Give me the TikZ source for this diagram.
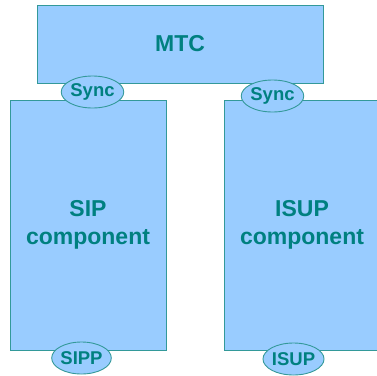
\documentclass[tikz,border=0pt]{standalone}
\usepackage{fontspec}
\setmainfont{Liberation Sans}
\usetikzlibrary{shapes.geometric}
\definecolor{boxfill}{HTML}{99CCFF}
\definecolor{boxline}{HTML}{339999}
\definecolor{labeltext}{HTML}{008080}
\tikzset{
  block/.style={draw=boxline, line width=0.9pt, fill=boxfill, inner sep=0pt,
    text=labeltext, align=center, font=\fontsize{23}{28}\selectfont\bfseries},
  port/.style={ellipse, draw=boxline, line width=0.9pt, fill=boxfill, inner sep=0pt,
    minimum width=51pt, minimum height=32pt, text=labeltext,
    font=\fontsize{18.5}{20}\selectfont\bfseries}
}
\begin{document}
\begin{tikzpicture}[x=1pt,y=-1pt]
\useasboundingbox (0,0) rectangle (377,375);
\clip (0,0) rectangle (377,375);
% component blocks
\node[block, minimum width=286pt, minimum height=78pt] (mtc) at (180,44) {MTC};
\node[block, minimum width=156pt, minimum height=250pt] (sip) at (88,225) {SIP\\component};
\node[block, minimum width=156pt, minimum height=250pt] (isup) at (302,225) {ISUP\\component};
% ports on the block edges
\node[port] (sync1) at (92.5,92) {Sync};
\node[port] (sync2) at (272.5,96) {Sync};
\node[port] (sipp) at (81.5,358) {SIPP};
\node[port] (isupp) at (293.5,359) {ISUP};
\end{tikzpicture}
\end{document}
